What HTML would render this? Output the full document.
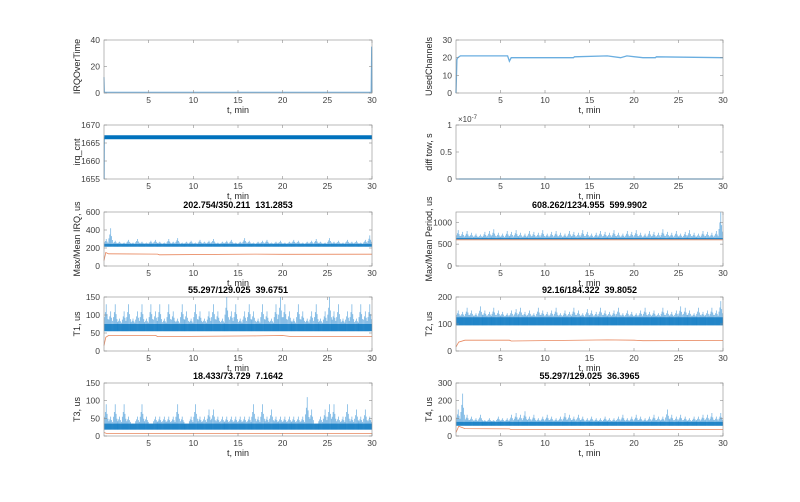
<!DOCTYPE html>
<html><head><meta charset="utf-8">
<style>
body{margin:0;background:#fff;width:800px;height:497px;overflow:hidden;font-family:"Liberation Sans",sans-serif;}
svg text{font-family:"Liberation Sans",sans-serif;white-space:pre;}
</style></head>
<body>
<svg id="fig" width="800" height="497" viewBox="0 0 800 497" xmlns="http://www.w3.org/2000/svg"></svg>
<script>
// ---- data ----
const xTicks = [5,10,15,20,25,30];
const irqOverTimeT = [0,0.05,0.1,29.9,29.95,30];
const irqOverTimeV = [12,1,0.5,0.5,35,0.5];
const irqCntT = [0.02,0.05,0.1,30];
const irqCntV = [1655,1666.6,1666.6,1666.6];
const usedT = [0,0.1,0.2,0.5,5.8,6.0,6.2,13.2,13.3,17.0,18.5,19.2,21.0,22.4,22.5,30];
const usedV = [0,19,20,21,21,18,20,20,20.5,21,20,21,20,20,20.5,20];
const diffT = [0,30];
const diffV = [0,0];
const irqSpikes = [300,420,280,270,260,290,260,300,270,260,280,290,270,260,300,270,310,260,270,280,260,290,270,280,300,260,270,280,290,260,270,310,280,260,270,280,290,260,270,280,260,270,290,280,260,270,280,300,270,260,310,270,280,260,290,270,280,260,290,340];
const irqBand = [215,245];
const irqMeanT = [0,0.2,0.5,6,6.2,17,20,30];
const irqMeanV = [60,150,135,132,125,132,130,131];
const perSpikes = [820,780,800,760,740,720,780,800,840,760,740,800,780,820,760,740,800,780,760,820,740,780,800,760,740,800,780,760,820,780,740,760,800,780,760,820,760,740,800,780,820,760,740,800,780,760,840,780,760,800,740,780,820,760,740,800,780,760,800,1230];
const perBand = [610,640];
const perMeanT = [0,30];
const perMeanV = [600,600];
const t1Spikes = [130,110,130,90,110,130,90,110,130,90,130,110,130,90,130,110,90,130,110,90,130,110,90,110,130,110,90,150,110,130,90,110,130,110,90,130,110,90,130,150,130,110,90,130,110,90,110,130,90,110,150,110,130,90,110,130,90,130,110,130];
const t1Band = [55,75];
const t1MeanT = [0,0.2,0.5,5.8,6,17,20,21,30];
const t1MeanV = [15,38,43,43,40,42,43,40,40];
const t2Spikes = [150,145,160,150,140,165,150,145,160,150,145,140,150,155,160,145,150,140,160,150,145,150,160,140,150,145,160,150,140,155,150,145,160,150,145,150,160,140,150,145,140,150,160,145,150,140,160,150,145,150,165,160,150,140,160,145,150,160,150,185];
const t2Band = [95,125];
const t2MeanT = [0,0.3,1,6,6.2,17,20,21,30];
const t2MeanV = [15,33,40,40,37,41,40,38,39];
const t3Spikes = [90,55,90,55,90,55,35,55,90,55,35,55,55,55,55,55,90,55,35,55,90,55,55,75,75,55,55,55,55,55,55,55,55,90,55,90,55,75,55,55,55,55,55,55,55,110,75,35,55,75,90,90,55,55,90,55,75,55,75,55];
const t3Band = [18,35];
const t3MeanT = [0,0.3,30];
const t3MeanV = [10,7,7];
const t4Spikes = [150,240,120,110,100,120,90,100,90,110,100,100,120,130,120,140,110,120,100,110,120,110,100,110,130,120,110,120,110,100,110,100,100,110,100,100,110,120,100,110,120,110,100,110,120,110,110,150,120,110,120,110,100,110,110,120,120,130,110,130];
const t4Band = [58,80];
const t4MeanT = [0,0.3,1,6,6.2,30];
const t4MeanV = [20,55,42,40,36,37];

// ---- layout ----
const NS="http://www.w3.org/2000/svg";
const svg=document.getElementById('fig');
const COLS=[[104,372],[456,723]];
const ROWS=[[40,93],[125,179],[212,266],[297,351],[383,436]];
const BLUE="#0072BD", LBLUE="#6aaee0", ORANGE="#e8875e";
const BOX="#8c8c8c";

function el(tag,attrs,parent){const e=document.createElementNS(NS,tag);for(const k in attrs)e.setAttribute(k,attrs[k]);(parent||svg).appendChild(e);return e;}

function panel(id,col,row,ylim,yticks,ylabel,title,tickFmt){
  const [x0,x1]=COLS[col],[y0,y1]=ROWS[row];
  const g=el('g',{});
  
  
  const sx=t=>x0+(t/30)*(x1-x0);
  const sy=v=>y1-(v-ylim[0])/(ylim[1]-ylim[0])*(y1-y0);
  const plot=el('g',{},g);
  
  
  const deco=el('g',{},g);
  xTicks.forEach(t=>{
    const x=sx(t);
    el('line',{x1:x,x2:x,y1:y1,y2:y1-3,stroke:BOX,'stroke-width':0.6},deco);
    el('line',{x1:x,x2:x,y1:y0,y2:y0+3,stroke:BOX,'stroke-width':0.6},deco);
    const tx=el('text',{x:x,y:y1+10,'font-size':8.5,fill:'#404040','text-anchor':'middle'},deco);
    tx.textContent=t;
    
    
  });
  yticks.forEach(v=>{
    const y=sy(v);
    el('line',{x1:x0,x2:x0+3,y1:y,y2:y,stroke:BOX,'stroke-width':0.6},deco);
    el('line',{x1:x1,x2:x1-3,y1:y,y2:y,stroke:BOX,'stroke-width':0.6},deco);
    const tx=el('text',{x:x0-4,y:y+3,'font-size':8.5,fill:'#404040','text-anchor':'end'},deco);
    tx.textContent=tickFmt?tickFmt(v):v;
    
    
  });
  const xl=el('text',{x:(x0+x1)/2,y:y1+20,'font-size':9,fill:'#262626','text-anchor':'middle'},deco);
  xl.textContent='t, min';
  
  
  const yx=x0-24, yy=(y0+y1)/2;
  const yl=el('text',{x:yx,y:yy,'font-size':9,fill:'#262626','text-anchor':'middle',transform:`rotate(-90 ${yx} ${yy})`},deco);
  yl.textContent=ylabel;
  
  
  if(title){
    const tt=el('text',{x:(x0+x1)/2,y:y0-4,'font-size':9,'font-weight':'bold',fill:'#000','text-anchor':'middle'},deco);
    tt.textContent=title;
    
    
  }
  return {g,plot,sx,sy,box:()=>el('rect',{x:x0,y:y0,width:x1-x0,height:y1-y0,fill:'none',stroke:BOX,'stroke-width':0.6},g)};
}

function line(p,ts,vs,color,w,name){
  const d=ts.map((t,i)=>(i?'L':'M')+p.sx(t).toFixed(1)+','+p.sy(vs[i]).toFixed(1)).join('');
  const l=el('path',{d:d,fill:'none',stroke:color,'stroke-width':w},p.plot);
  
  
}
function noisy(p,spikes,band,name){
  const n=spikes.length, dt=30/n;
  const fr=[0.35,0.6,1,0.5,0.25];
  let d='';
  spikes.forEach((v,i)=>{
    for(let k=0;k<fr.length;k++){
      const t=i*dt+dt*(k+0.5)/fr.length;
      const top=band[1]+(v-band[1])*fr[k];
      d+='M'+p.sx(t).toFixed(1)+','+p.sy(band[0]).toFixed(1)+'L'+p.sx(t).toFixed(1)+','+p.sy(top).toFixed(1);
    }
  });
  const s=el('path',{d:d,stroke:LBLUE,'stroke-width':0.7,fill:'none'},p.plot);
  
  
  const r=el('rect',{x:p.sx(0.05),y:p.sy(band[1]),width:p.sx(30)-p.sx(0.05),height:p.sy(band[0])-p.sy(band[1]),fill:BLUE,opacity:0.75},p.plot);
  
  
}

let p;
p=panel('irq-over-time',0,0,[0,40],[0,20,40],'IRQOverTime');
line(p,irqOverTimeT,irqOverTimeV,LBLUE,1,'irq-over-time-line');p.box();
p=panel('used-channels',1,0,[0,30],[0,10,20,30],'UsedChannels');
line(p,usedT,usedV,LBLUE,1.3,'used-channels-line');p.box();
p=panel('irq-cnt',0,1,[1655,1670],[1655,1660,1665,1670],'irq_cnt');
line(p,irqCntT.slice(0,2),irqCntV.slice(0,2),LBLUE,1,'irq-cnt-start-line');
line(p,irqCntT.slice(1),irqCntV.slice(1),BLUE,4,'irq-cnt-line');p.box();
p=panel('diff-tow',1,1,[0,1e-7],[0,0.5e-7,1e-7],'diff tow, s',null,v=>String(Math.round(v*1e8)/10));
line(p,diffT,diffV,BLUE,1,'diff-tow-line');p.box();
{const t=el('text',{x:COLS[1][0]+2,y:ROWS[1][0]-3,'font-size':8,fill:'#404040'});


t.appendChild(document.createTextNode('×10'));
const ts=el('tspan',{dy:-3,'font-size':6},t);ts.textContent='-7';}
p=panel('max-mean-irq',0,2,[0,600],[0,200,400,600],'Max/Mean IRQ, us','202.754/350.211  131.2853');
noisy(p,irqSpikes,irqBand,'irq-max');line(p,irqMeanT,irqMeanV,ORANGE,0.8,'irq-mean-line');p.box();
p=panel('max-mean-period',1,2,[0,1235],[0,500,1000],'Max/Mean Period, us','608.262/1234.955  599.9902');
noisy(p,perSpikes,perBand,'period-max');line(p,perMeanT,perMeanV,ORANGE,0.8,'period-mean-line');p.box();
p=panel('t1',0,3,[0,150],[0,50,100,150],'T1, us','55.297/129.025  39.6751');
noisy(p,t1Spikes,t1Band,'t1-max');line(p,t1MeanT,t1MeanV,ORANGE,0.8,'t1-mean-line');p.box();
p=panel('t2',1,3,[0,200],[0,100,200],'T2, us','92.16/184.322  39.8052');
noisy(p,t2Spikes,t2Band,'t2-max');line(p,t2MeanT,t2MeanV,ORANGE,0.8,'t2-mean-line');p.box();
p=panel('t3',0,4,[0,150],[0,50,100,150],'T3, us','18.433/73.729  7.1642');
noisy(p,t3Spikes,t3Band,'t3-max');line(p,t3MeanT,t3MeanV,ORANGE,0.8,'t3-mean-line');p.box();
p=panel('t4',1,4,[0,300],[0,100,200,300],'T4, us','55.297/129.025  36.3965');
noisy(p,t4Spikes,t4Band,'t4-max');line(p,t4MeanT,t4MeanV,ORANGE,0.8,'t4-mean-line');p.box();
</script>
</body></html>
